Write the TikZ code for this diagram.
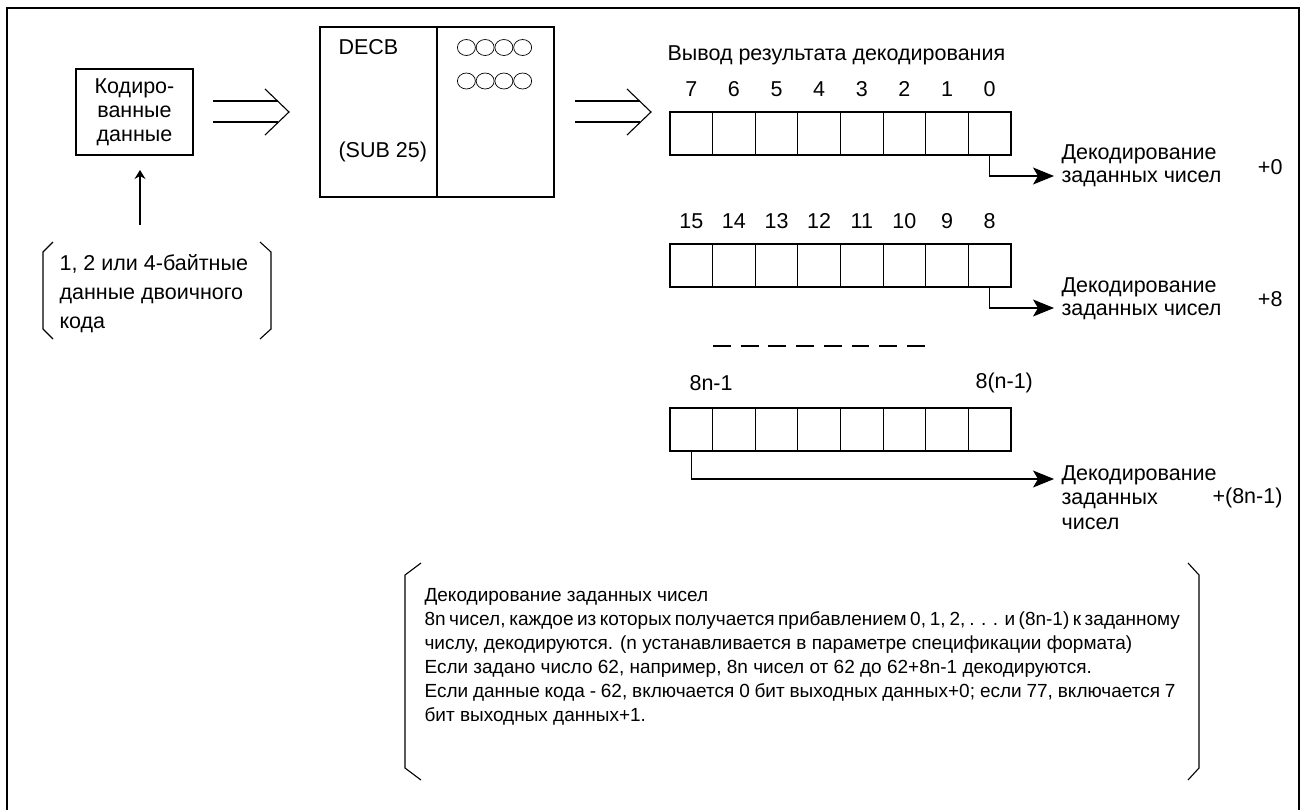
\documentclass[tikz,border=0pt]{standalone}
\usepackage{fontspec}
\setmainfont{Liberation Sans}
\usetikzlibrary{arrows.meta,positioning}

\tikzset{
  cell/.style={draw, minimum width=42.6pt, minimum height=43pt, inner sep=0pt},
  txt/.style={inner sep=0pt, font=\fontsize{21.5}{24}\selectfont},
  decarrow/.style={-{Stealth[length=21pt,width=17pt,inset=5pt]}},
}

\begin{document}
\begin{tikzpicture}[x=1pt, y=-1pt, line width=1.1pt]
    \useasboundingbox (0,0) rectangle (1304,809);
    % outer frame, its bottom edge runs off the page
    \draw[line width=2.6pt] (7,8) rectangle (1299,830);

    % coded data
    \node[draw, txt, minimum width=117pt, minimum height=86pt, align=center] (coded) at (134.5,112) {Кодиро-\\ванные\\данные};
    \node[txt, anchor=north west, align=left, font=\fontsize{21.5}{29}\selectfont] (bindata) at (59,254) {1, 2 или 4-байтные\\данные двоичного\\кода};
    \draw (53,242) -- (43,252) -- (43,329) -- (53,339);
    \draw (260,242) -- (271,252) -- (271,329) -- (260,339);
    \coordinate (upfoot) at (140,225);
    \coordinate (uptip) at (140,170);
    \draw[-{Stealth[length=9pt,width=11pt,inset=3pt]}] (upfoot) -- (uptip);

    % DECB block
    \node[draw, minimum width=234pt, minimum height=170pt] (decb) at (437,112) {};
    \draw (decb.north) -- (decb.south);
    \node[txt, anchor=west] (decbname) at (338,47) {DECB};
    \node[txt, anchor=west] (decbsub) at (338,152) {(SUB 25)};
    \foreach \row in {47.5,81}
        \foreach \i in {0,...,3}
            \draw[line width=0.7pt] (466.4+18.75*\i,\row) ellipse (9pt and 8pt);

    % wide arrows
    \foreach \sx/\nm in {213/inarrow, 575/outarrow} {
        \coordinate (\nm) at (\sx,112);
        \draw (\nm) ++(0,-11) -- ++(65,0);
        \draw (\nm) ++(0,10) -- ++(65,0);
        \draw (\nm) ++(52,-23) -- ++(24,23) -- ++(-24,23);
    }

    % output registers
    \node[txt, anchor=west] (outtitle) at (667,55) {Вывод результата декодирования};
    \foreach \r/\ty in {1/133.5, 2/265.5, 3/429.5}
        \foreach \p in {0,...,7}
            \node[cell] (reg\r-\p) at (691.3+42.625*\p,\ty) {};
    \foreach \p [evaluate=\p as \lo using int(7-\p), evaluate=\p as \hi using int(15-\p)] in {0,...,7} {
        \node[txt, above=14.5pt of reg1-\p] (lo\p) {\lo};
        \node[txt, above=14.5pt of reg2-\p] (hi\p) {\hi};
    }
    \node[txt, anchor=west] (topbit) at (689,383) {8n-1};
    \node[txt, anchor=west] (lowbit) at (975,383) {8(n-1)};
    \draw[dash pattern=on 17.8pt off 9.9pt] (713,346) -- (925,346);

    % decoded numbers
    \coordinate (tip1) at (1054,176);
    \coordinate (tip2) at (1054,308);
    \coordinate (tip3) at (1054,479);
    \draw[decarrow] (reg1-7.south) |- (tip1);
    \draw[decarrow] (reg2-7.south) |- (tip2);
    \draw[decarrow] (reg3-0.south) |- (tip3);
    \node[txt, anchor=west, align=left, font=\fontsize{21.5}{23}\selectfont] (dec1) at (1061,166) {Декодирование\\заданных чисел};
    \node[txt, anchor=west, align=left, font=\fontsize{21.5}{23}\selectfont] (dec2) at (1061,298.5) {Декодирование\\заданных чисел};
    \node[txt, anchor=west, align=left, font=\fontsize{21.5}{24.5}\selectfont] (dec3) at (1061,497.5) {Декодирование\\заданных\\чисел};
    \node[txt, anchor=east] (off1) at (1283,167) {+0};
    \node[txt, anchor=east] (off2) at (1283,299) {+8};
    \node[txt, anchor=east] (off3) at (1283,498) {+(8n-1)};

    % note
    \draw (421,563) -- (405,575) -- (405,768) -- (421,780);
    \draw (1188,563) -- (1199,575) -- (1199,768) -- (1188,780);
    \node[anchor=north west, inner sep=0pt, align=left, font=\fontsize{19}{24}\selectfont] (note) at (424,588) {Декодирование заданных чисел\\\makebox[751pt][s]{8n чисел, каждое из которых получается прибавлением 0, 1, 2, . . . и (8n-1) к заданному}\\числу, декодируются. (n устанавливается в параметре спецификации формата)\\Если задано число 62, например, 8n чисел от 62 до 62+8n-1 декодируются.\\\makebox[751pt][s]{Если данные кода - 62, включается 0 бит выходных данных+0; если 77, включается 7}\\бит выходных данных+1.};
\end{tikzpicture}
\end{document}
